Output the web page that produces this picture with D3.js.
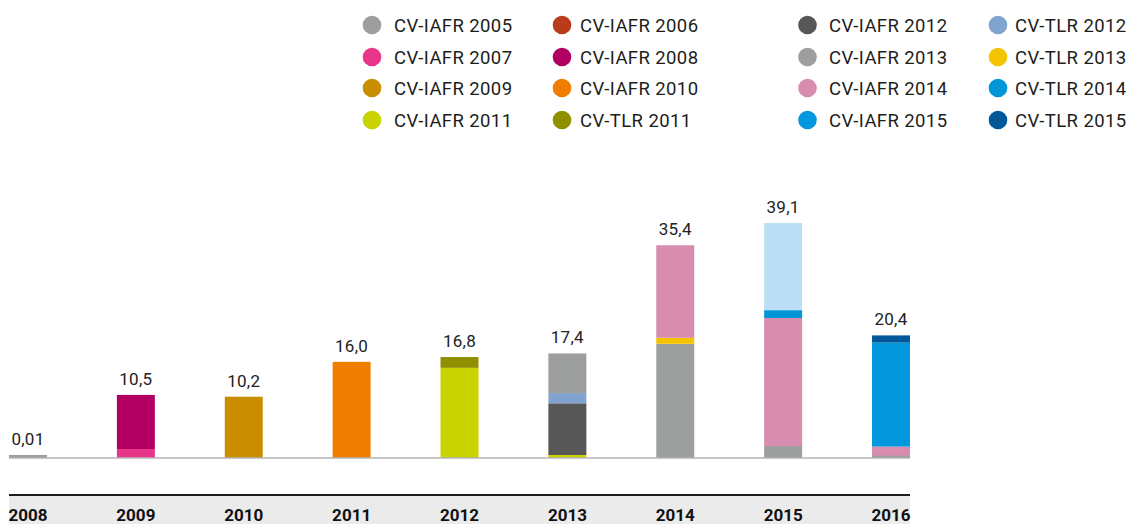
<!DOCTYPE html>
<html>
<head>
<meta charset="UTF-8">
<title>CV-IAFR / CV-TLR</title>
<script type="text/javascript" src="https://cdn.jsdelivr.net/npm/d3@7"></script>
<style>
  body { margin: 0; background: #fff; }
  svg { display: block; font-family: Roboto, "Noto Sans", sans-serif; }
</style>
</head>
<body>
<script type="text/javascript">
// years on the axis
var years = ["2008", "2009", "2010", "2011", "2012", "2013", "2014", "2015", "2016"];

// one series per programme (legend order = stacking order)
var seriesNames = [
  "CV-IAFR 2005", "CV-IAFR 2006", "CV-IAFR 2007", "CV-IAFR 2008",
  "CV-IAFR 2009", "CV-IAFR 2010", "CV-IAFR 2011", "CV-TLR 2011",
  "CV-IAFR 2012", "CV-TLR 2012", "CV-IAFR 2013", "CV-TLR 2013",
  "CV-IAFR 2014", "CV-TLR 2014", "CV-IAFR 2015", "CV-TLR 2015",
  "CV-IAFR 2015 (2)"
];
var seriesColors = [
  "#9d9e9e", "#b93b1a", "#e8358a", "#b10062",
  "#c98e00", "#ef7d00", "#c9d300", "#8f8f00",
  "#575757", "#80a3cf", "#9d9e9e", "#f5c400",
  "#d88cae", "#0095d7", "#0398dd", "#00589b",
  "#bddff6"
];
// the last series has no legend entry
var legendCount = 16;

// values per series, aligned with years
var values = [
  [0.01, 0,   0,    0,    0,    0,   0,    0,    0  ],  // CV-IAFR 2005
  [0,    0,   0,    0,    0,    0,   0,    0,    0  ],  // CV-IAFR 2006
  [0,    1.5, 0,    0,    0,    0,   0,    0,    0  ],  // CV-IAFR 2007
  [0,    9.0, 0,    0,    0,    0,   0,    0,    0  ],  // CV-IAFR 2008
  [0,    0,   10.2, 0,    0,    0,   0,    0,    0  ],  // CV-IAFR 2009
  [0,    0,   0,    16.0, 0,    0,   0,    0,    0  ],  // CV-IAFR 2010
  [0,    0,   0,    0,    15.0, 0.5, 0,    0,    0  ],  // CV-IAFR 2011
  [0,    0,   0,    0,    1.8,  0,   0,    0,    0  ],  // CV-TLR 2011
  [0,    0,   0,    0,    0,    8.6, 0,    0,    0  ],  // CV-IAFR 2012
  [0,    0,   0,    0,    0,    1.7, 0,    0,    0  ],  // CV-TLR 2012
  [0,    0,   0,    0,    0,    6.6, 19.0, 2.0,  0.4],  // CV-IAFR 2013
  [0,    0,   0,    0,    0,    0,   1.0,  0,    0  ],  // CV-TLR 2013
  [0,    0,   0,    0,    0,    0,   15.4, 21.3, 1.5],  // CV-IAFR 2014
  [0,    0,   0,    0,    0,    0,   0,    1.3,  0  ],  // CV-TLR 2014
  [0,    0,   0,    0,    0,    0,   0,    0,    17.3], // CV-IAFR 2015
  [0,    0,   0,    0,    0,    0,   0,    0,    1.2],  // CV-TLR 2015
  [0,    0,   0,    0,    0,    0,   0,    14.5, 0  ]   // light blue part 2015
];

var w = 1131, h = 524;

var svg = d3.select("body")
  .append("svg")
  .attr("width", w)
  .attr("height", h);

// table for d3.stack
var table = years.map(function(yr, i) {
  var row = { year: yr };
  seriesNames.forEach(function(s, j) { row[s] = values[j][i]; });
  return row;
});

var stack = d3.stack().keys(seriesNames);
var layers = stack(table);

var x = d3.scaleBand()
  .domain(years)
  .range([9, 910])
  .paddingInner(0.648)
  .paddingOuter(0);

var y = d3.scaleLinear()
  .domain([0, 40])
  .range([458, 217.6]);

var color = d3.scaleOrdinal().domain(seriesNames).range(seriesColors);

// bars
svg.append("g")
  .selectAll("g")
  .data(layers)
  .enter()
  .append("g")
  .attr("fill", function(d) { return color(d.key); })
  .selectAll("rect")
  .data(function(d) { return d.filter(function(p) { return p[1] - p[0] > 0; }); })
  .enter()
  .append("rect")
  .attr("x", function(d) { return x(d.data.year); })
  .attr("width", x.bandwidth())
  .attr("y", function(d) {
    var hh = Math.max(y(d[0]) - y(d[1]), 3);  // tiny parts stay visible
    return y(d[0]) - hh;
  })
  .attr("height", function(d) { return Math.max(y(d[0]) - y(d[1]), 3); });

// baseline
svg.append("line")
  .attr("x1", 9).attr("x2", 910)
  .attr("y1", y(0)).attr("y2", y(0))
  .attr("stroke", "#b4b4b4")
  .attr("stroke-opacity", 0.75)
  .attr("stroke-width", 2);

// totals above the bars
var totals = table.map(function(r) {
  return { year: r.year, total: d3.sum(seriesNames, function(s) { return r[s]; }) };
});
function fmt(v) {
  var s = v < 0.1 ? v.toFixed(2) : v.toFixed(1);
  return s.replace(".", ",");
}
svg.append("g")
  .selectAll("text")
  .data(totals)
  .enter()
  .append("text")
  .attr("x", function(d) { return x(d.year) + x.bandwidth() / 2; })
  .attr("y", function(d) { return Math.min(y(d.total), y(0) - 3) - 10; })
  .attr("text-anchor", "middle")
  .attr("font-size", "17px")
  .attr("letter-spacing", "0.3px")
  .attr("fill", "#222")
  .text(function(d) { return fmt(d.total); });

// category band at the bottom
svg.append("rect")
  .attr("x", 9).attr("y", 495)
  .attr("width", 901).attr("height", 30)
  .attr("fill", "#ebebeb");
svg.append("line")
  .attr("x1", 9).attr("x2", 910)
  .attr("y1", 495).attr("y2", 495)
  .attr("stroke", "#1d1d1b")
  .attr("stroke-width", 2);

var xAxis = svg.append("g")
  .attr("transform", "translate(0,505)")
  .call(d3.axisBottom(x).tickSize(0).tickPadding(0));
xAxis.select(".domain").remove();
xAxis.selectAll("text")
  .attr("dy", "16px")
  .attr("font-family", "Roboto, sans-serif")
  .attr("font-size", "17px")
  .attr("font-weight", "bold")
  .attr("fill", "#111");

// legend: two blocks of two columns
var legCircleX = [372, 562, 807.5, 998];
var legTextX = [394, 580, 829, 1015];
var legRowY = [25, 57, 88, 120];

var legend = svg.append("g")
  .selectAll("g")
  .data(seriesNames.slice(0, legendCount))
  .enter()
  .append("g");

function legCol(i) { var block = Math.floor(i / 8), k = i % 8; return block * 2 + (k % 2); }
function legRow(i) { return Math.floor((i % 8) / 2); }

legend.append("circle")
  .attr("cx", function(d, i) { return legCircleX[legCol(i)]; })
  .attr("cy", function(d, i) { return legRowY[legRow(i)]; })
  .attr("r", 9.3)
  .attr("fill", function(d) { return color(d); });

legend.append("text")
  .attr("x", function(d, i) { return legTextX[legCol(i)]; })
  .attr("y", function(d, i) { return legRowY[legRow(i)] + 6.5; })
  .attr("font-size", "18.5px")
  .attr("letter-spacing", "0.4px")
  .attr("fill", "#1d1d1b")
  .text(function(d) { return d; });
</script>
</body>
</html>
